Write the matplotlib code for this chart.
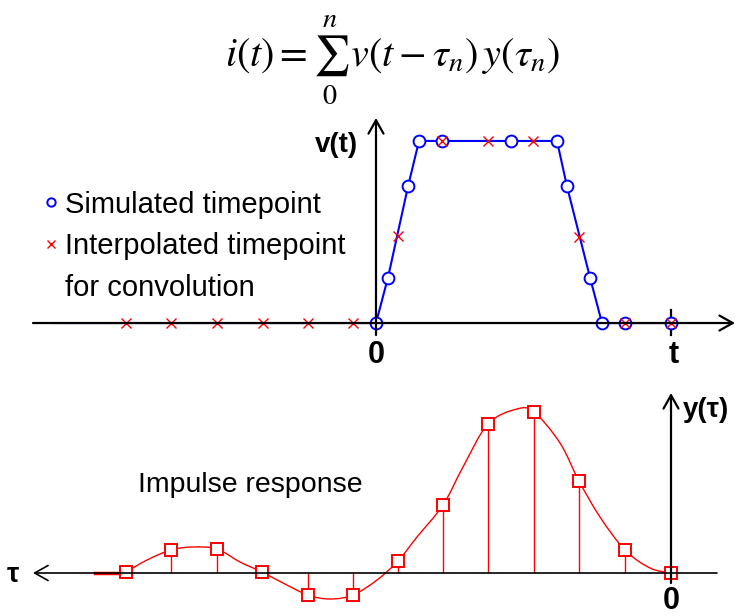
import matplotlib
matplotlib.use("Agg")
import matplotlib.pyplot as plt
from matplotlib.lines import Line2D
from matplotlib.path import Path
from matplotlib.patches import PathPatch

plt.rcParams['font.family'] = ['Liberation Sans', 'DejaVu Sans']
plt.rcParams['mathtext.fontset'] = 'stix'

# v(t): simulated timepoints (blue circles)
sim_t = [0, 1.2, 3.2, 4.3, 6.6, 13.5, 18.1, 19.1, 21.4, 22.6, 24.9, 29.5]
sim_v = [0, 0.25, 0.75, 1, 1, 1, 1, 0.75, 0.25, 0, 0, 0]
# waveform drawn as a line, including the flat part before t=0
wave_t = [-32.1] + sim_t + [30.1]
wave_v = [0] + sim_v + [0]
# interpolated timepoints used for the convolution (red crosses)
interp_t = [-25.0, -20.5, -15.9, -11.3, -6.8, -2.3, 2.2, 6.6, 11.2, 15.7, 20.3, 24.9, 29.5]
interp_v = [0, 0, 0, 0, 0, 0, 0.48, 1, 1, 1, 0.47, 0, 0]

# impulse response y(tau): samples (red squares)
tau_n = [0, 4.6, 9.2, 13.7, 18.3, 22.8, 27.3, 31.8, 36.3, 40.9, 45.4, 50.0, 54.5]
y_n = [0, 0.23, 0.92, 1.61, 1.49, 0.68, 0.12, -0.22, -0.22, 0.01, 0.24, 0.23, 0.01]
# continuous response curve
curve_tau = [0, 2.1, 4.6, 7.1, 9.2, 11.1, 13.7, 15.4, 18.3, 20.8, 22.8, 25.4, 27.3,
             29.4, 31.8, 34.1, 36.3, 38.8, 40.9, 43.1, 45.4, 47.8, 50.0, 52.4, 54.5]
curve_y = [0, 0.05, 0.23, 0.56, 0.92, 1.30, 1.61, 1.64, 1.49, 1.06, 0.68, 0.36, 0.12,
           -0.07, -0.22, -0.26, -0.22, -0.10, 0.01, 0.11, 0.24, 0.26, 0.23, 0.13, 0.01]
tail_tau = [54.5, 57.6]
tail_y = [0, 0]


def smooth_path(xs, ys):
    # cubic Bezier through the points (Catmull-Rom tangents), only for drawing
    pts = list(zip(xs, ys))
    verts = [pts[0]]
    codes = [Path.MOVETO]
    for i in range(len(pts) - 1):
        p0 = pts[max(i - 1, 0)]
        p1 = pts[i]
        p2 = pts[i + 1]
        p3 = pts[min(i + 2, len(pts) - 1)]
        c1 = (p1[0] + (p2[0] - p0[0]) / 6, p1[1] + (p2[1] - p0[1]) / 6)
        c2 = (p2[0] - (p3[0] - p1[0]) / 6, p2[1] - (p3[1] - p1[1]) / 6)
        verts += [c1, c2, p2]
        codes += [Path.CURVE4] * 3
    return Path(verts, codes)


fig = plt.figure(figsize=(7.37, 6.16), dpi=100)

# formula
fig.text(0.533, 0.903, r'$i(t) = \sum_{0}^{n}\, v(t-\tau_n)\,y(\tau_n)$',
         fontsize=29, ha='center', va='center')

# ---- top: v(t)
ax = fig.add_axes([0, 1 - 370 / 616, 1, 260 / 616])
ax.set_xlim(-37.6, 36.1)
ax.set_ylim(-0.258, 1.170)
ax.axis('off')

arr = dict(arrowstyle='->,head_length=0.8,head_width=0.45', lw=1.6, color='black',
           mutation_scale=12, shrinkA=0, shrinkB=0)
ax.annotate('', xy=(35.9, 0), xytext=(-34.3, 0), arrowprops=arr)
ax.annotate('', xy=(0, 1.126), xytext=(0, -0.066), arrowprops=arr)
ax.plot([29.5, 29.5], [-0.066, 0.07], color='black', lw=1.6)

ax.plot(wave_t, wave_v, color='blue', lw=1.5)
ax.plot(sim_t, sim_v, 'o', ms=8.5, mfc='white', mec='blue', mew=1.4)
ax.plot(interp_t, interp_v, 'x', ms=7, color='red', mew=1)

ax.text(-4.0, 0.98, 'v(t)', fontsize=20, fontweight='bold', ha='center', va='center')
ax.text(0, -0.176, '0', fontsize=22, fontweight='bold', ha='center', va='center')
ax.text(29.8, -0.176, 't', fontsize=22, fontweight='bold', ha='center', va='center')

handles = [Line2D([], [], ls='none', marker='o', ms=6, mfc='white', mec='blue', mew=1.4),
           Line2D([], [], ls='none', marker='x', ms=6, color='red', mew=1),
           Line2D([], [], ls='none')]
ax.legend(handles, ['Simulated timepoint', 'Interpolated timepoint', 'for convolution'],
          loc='upper left', bbox_to_anchor=(29 / 737, 1 - 176 / 616),
          bbox_transform=fig.transFigure, frameon=False, fontsize=21,
          handlelength=0.5, handletextpad=0.25, borderpad=0, labelspacing=0.47)

# ---- bottom: impulse response
bx = fig.add_axes([0, 0, 1, 236 / 616])
bx.set_xlim(67.1, -6.6)
bx.set_ylim(-0.43, 1.93)
bx.axis('off')

arr2 = dict(arr, lw=1.2)
bx.annotate('', xy=(63.8, 0), xytext=(-4.6, 0), arrowprops=arr2)
bx.annotate('', xy=(0, 1.80), xytext=(0, -0.10), arrowprops=arr)

bx.vlines(tau_n, 0, y_n, color='red', lw=1)
bx.add_patch(PathPatch(smooth_path(curve_tau, curve_y), facecolor='none',
                       edgecolor='red', lw=1))
bx.plot(tail_tau, tail_y, color='red', lw=2.5)
bx.plot(tau_n, y_n, 's', ms=9, mfc='white', mec='red', mew=1.4)

bx.text(65.8, -0.02, 'τ', fontsize=20, fontweight='bold', ha='center', va='center')
bx.text(-1.2, 1.63, 'y(τ)', fontsize=20, fontweight='bold', ha='left', va='center')
bx.text(0, -0.28, '0', fontsize=22, fontweight='bold', ha='center', va='center')
bx.text(42.1, 0.88, 'Impulse response', fontsize=20.5, ha='center', va='center')

fig.savefig('out.png', dpi=100)
